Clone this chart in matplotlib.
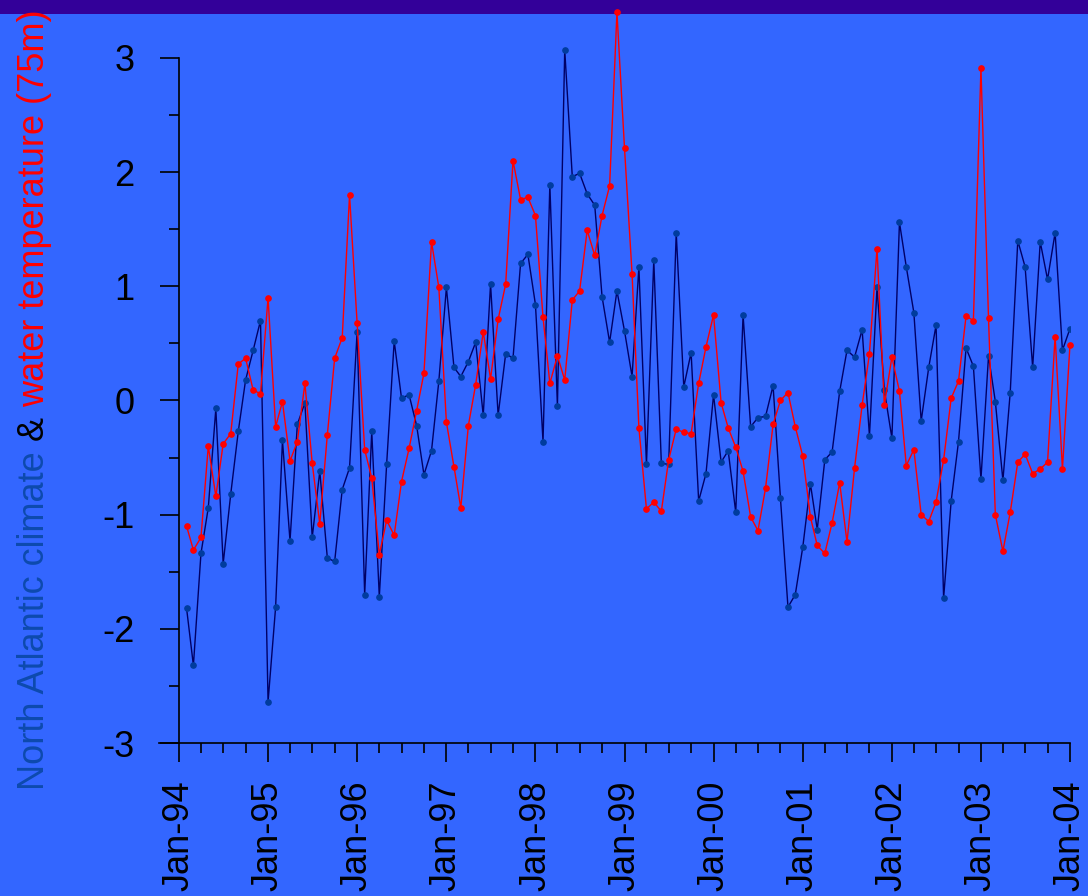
import matplotlib
matplotlib.use('Agg')
import matplotlib.pyplot as plt
import matplotlib.dates as mdates
import matplotlib.patches as mpatches
from matplotlib.ticker import MultipleLocator
import pandas as pd

plt.rcParams['font.family'] = ['Liberation Sans', 'DejaVu Sans']
plt.rcParams['axes.unicode_minus'] = False

# monthly values, Feb-94 .. Jan-04
dates = pd.date_range('1994-02-01', periods=120, freq='MS')

climate = [
    -1.82, -2.32, -1.34, -0.94, -0.07, -1.43, -0.82, -0.27, 0.18, 0.44, 0.70, -2.64,
    -1.81, -0.35, -1.23, -0.21, -0.02, -1.20, -0.62, -1.38, -1.41, -0.78, -0.59, 0.60,
    -1.70, -0.27, -1.72, -0.56, 0.52, 0.02, 0.05, -0.22, -0.65, -0.44, 0.17, 0.99,
    0.29, 0.21, 0.34, 0.51, -0.13, 1.02, -0.13, 0.41, 0.37, 1.20, 1.28, 0.84,
    -0.36, 1.89, -0.05, 3.07, 1.96, 1.99, 1.81, 1.71, 0.91, 0.51, 0.96, 0.61,
    0.21, 1.17, -0.56, 1.23, -0.55, -0.56, 1.47, 0.12, 0.42, -0.88, -0.64, 0.05,
    -0.54, -0.44, -0.98, 0.75, -0.23, -0.15, -0.14, 0.13, -0.85, -1.81, -1.70, -1.28,
    -0.73, -1.13, -0.52, -0.45, 0.08, 0.44, 0.38, 0.62, -0.31, 0.99, 0.09, -0.33,
    1.56, 1.17, 0.77, -0.18, 0.29, 0.66, -1.73, -0.88, -0.36, 0.46, 0.30, -0.69,
    0.39, -0.01, -0.70, 0.07, 1.40, 1.17, 0.29, 1.39, 1.06, 1.47, 0.44, 0.63,
]

water_temp = [
    -1.10, -1.31, -1.20, -0.40, -0.84, -0.38, -0.29, 0.32, 0.37, 0.09, 0.06, 0.90,
    -0.23, -0.01, -0.53, -0.36, 0.15, -0.55, -1.08, -0.30, 0.37, 0.55, 1.80, 0.68,
    -0.43, -0.68, -1.35, -1.05, -1.18, -0.71, -0.42, -0.09, 0.24, 1.39, 0.99, -0.19,
    -0.58, -0.94, -0.22, 0.14, 0.60, 0.19, 0.71, 1.02, 2.10, 1.76, 1.78, 1.62,
    0.73, 0.15, 0.39, 0.18, 0.88, 0.96, 1.49, 1.27, 1.62, 1.88, 3.40, 2.21,
    1.11, -0.24, -0.95, -0.89, -0.97, -0.52, -0.25, -0.28, -0.29, 0.15, 0.47, 0.75,
    -0.02, -0.24, -0.41, -0.62, -1.02, -1.14, -0.77, -0.21, 0.00, 0.07, -0.23, -0.49,
    -1.02, -1.27, -1.34, -1.07, -0.72, -1.24, -0.59, -0.04, 0.41, 1.33, -0.04, 0.38,
    0.08, -0.57, -0.43, -1.00, -1.06, -0.89, -0.52, 0.02, 0.17, 0.74, 0.70, 2.91,
    0.72, -1.00, -1.32, -0.98, -0.54, -0.47, -0.64, -0.60, -0.54, 0.56, -0.60, 0.49,
]

bg = '#3366FF'
W, H = 1088, 896
fig = plt.figure(figsize=(W / 100, H / 100), dpi=100, facecolor=bg)

# dark header band
fig.patches.append(mpatches.Rectangle((0, 1 - 14 / H), 1, 14 / H, transform=fig.transFigure,
                                      facecolor='#330099', edgecolor='none', zorder=-1))

ax = fig.add_axes([159 / W, (H - 743) / H, (1070 - 159) / W, (743 - 14) / H])
ax.set_facecolor('none')

ax.plot(dates, climate, color='#000066', lw=1.0, marker='o', ms=3.8,
        mfc='#003C9E', mec='#003C9E', zorder=3)
ax.plot(dates, water_temp, color='#FF0000', lw=1.0, marker='o', ms=3.8,
        mfc='#FF0000', mec='#FF0000', zorder=4, clip_on=False)

x0 = mdates.date2num(pd.Timestamp('1994-01-01'))
x1 = mdates.date2num(pd.Timestamp('2004-01-01'))
ax.set_xlim(x0 - 82, x1)
ax.set_ylim(-3, 3 + 44 / 114.2)

for s in ['top', 'right']:
    ax.spines[s].set_visible(False)
ax.spines['left'].set_position(('data', x0))
ax.spines['left'].set_bounds(-3, 3)
for s in ['left', 'bottom']:
    ax.spines[s].set_color('black')
    ax.spines[s].set_linewidth(1.2)

ax.xaxis.set_major_locator(mdates.YearLocator())
ax.xaxis.set_minor_locator(mdates.MonthLocator(bymonth=[4, 7, 10]))
ax.xaxis.set_major_formatter(mdates.DateFormatter('%b-%y'))
ax.yaxis.set_major_locator(MultipleLocator(1))
ax.yaxis.set_minor_locator(MultipleLocator(0.5))

ax.tick_params(axis='both', which='major', direction='out', length=14, width=1.2,
               color='black', labelcolor='black', labelsize=26)
ax.tick_params(axis='both', which='minor', direction='out', length=7, width=1.2, color='black')
ax.tick_params(axis='y', which='major', pad=18)
ax.tick_params(axis='x', which='major', pad=13, labelrotation=90)

# multicoloured y label, built piece by piece
parts = [('North Atlantic climate ', '#0D4AAE'), ('& ', 'black'),
         ('water temperature (75m)', '#FF0000')]
fs = 26
renderer = fig.canvas.get_renderer()


def text_len(s):
    t = fig.text(0, 0, s + '.', fontsize=fs)
    d = fig.text(0, 0, '.', fontsize=fs)
    w = t.get_window_extent(renderer).width - d.get_window_extent(renderer).width
    t.remove()
    d.remove()
    return w


xb = 44 / W
y0 = (H - 790) / H
prefix = ''
for txt, col in parts:
    off = text_len(prefix) if prefix else 0
    fig.text(xb, y0 + off / H, txt, rotation=90, rotation_mode='anchor',
             ha='left', va='baseline', fontsize=fs, color=col, zorder=5)
    prefix += txt

fig.savefig('out.png', dpi=100, facecolor=bg)
